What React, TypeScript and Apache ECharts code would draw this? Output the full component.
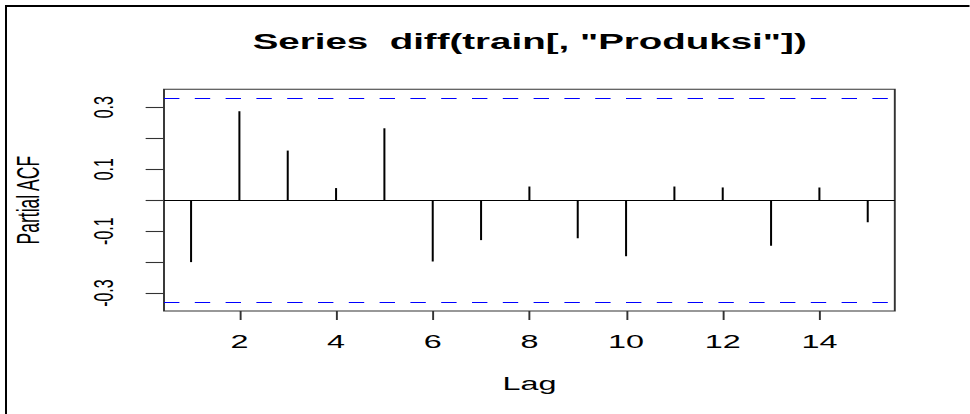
import React, { useEffect, useRef } from "react";
import * as echarts from "echarts";

// Partial autocorrelation of diff(train[, "Produksi"]) by lag
const lags = [1, 2, 3, 4, 5, 6, 7, 8, 9, 10, 11, 12, 13, 14, 15];
const pacf = [-0.2, 0.287, 0.16, 0.039, 0.232, -0.198, -0.129, 0.044, -0.123, -0.181, 0.044, 0.041, -0.147, 0.041, -0.071];
// 95% bound: 1.96 / sqrt(n), n = 35
const ciBound = 0.3313;

const lagTicks = [2, 4, 6, 8, 10, 12, 14];
const pacfTicks = [-0.3, -0.2, -0.1, 0, 0.1, 0.2, 0.3];
const pacfLabels = [-0.3, -0.1, 0.1, 0.3];

const titleText = 'Series  diff(train[, "Produksi"])';

// The plot is drawn in a narrower box and widened horizontally
const S = 1.75;
const W = 970 / S;
const H = 414;
const FONT = '"Liberation Sans", Arial, Helvetica, sans-serif';

// R-style axis extension: 4% of the data range on each side
const xMin = 1 - 0.04 * 14;
const xMax = 15 + 0.04 * 14;
const yLim = ciBound * 1.08;

export default function App() {
  const ref = useRef<HTMLDivElement>(null);

  useEffect(() => {
    if (!ref.current) return;
    const chart = echarts.init(ref.current, undefined, { renderer: "svg" });
    chart.setOption({
      animation: false,
      backgroundColor: "#ffffff",
      grid: {
        left: 164 / S,
        right: W - 895.3 / S,
        top: 89.3,
        bottom: H - 311,
        show: true,
        borderColor: "#333",
        borderWidth: 1.1,
        backgroundColor: "transparent",
        containLabel: false,
        outerBoundsMode: "none",
      },
      graphic: [
        {
          type: "line",
          shape: { x1: 5 / S, y1: 6, x2: W, y2: 6 },
          style: { stroke: "#000", lineWidth: 2 },
          silent: true,
        },
        {
          type: "line",
          shape: { x1: 6 / S, y1: 5, x2: 6 / S, y2: H },
          style: { stroke: "#000", lineWidth: 2 / S },
          silent: true,
        },
        {
          type: "text",
          x: 529.7 / S,
          y: 42,
          style: {
            text: titleText,
            fontSize: 22,
            fontWeight: "bold",
            fontFamily: FONT,
            fill: "#000",
            align: "center",
            verticalAlign: "middle",
          },
          silent: true,
        },
      ],
      xAxis: {
        type: "value",
        min: xMin,
        max: xMax,
        splitLine: { show: false },
        axisLine: { show: false, onZero: false },
        axisTick: {
          show: true,
          customValues: lagTicks,
          length: 9,
          lineStyle: { color: "#333", width: 1.1 },
        },
        axisLabel: {
          customValues: lagTicks,
          margin: 21,
          fontSize: 18.5,
          fontFamily: FONT,
          color: "#000",
        },
        name: "Lag",
        nameLocation: "middle",
        nameGap: 63,
        nameTextStyle: { fontSize: 18.5, fontFamily: FONT, color: "#000" },
      },
      yAxis: {
        type: "value",
        min: -yLim,
        max: yLim,
        splitLine: { show: false },
        axisLine: { show: false, onZero: false },
        axisTick: {
          show: true,
          customValues: pacfTicks,
          length: 10.5,
          lineStyle: { color: "#333", width: 1.1 },
        },
        axisLabel: {
          customValues: pacfLabels,
          rotate: 90,
          margin: 27,
          fontSize: 16,
          fontFamily: FONT,
          color: "#000",
          formatter: (v: number) => v.toFixed(1),
        },
        name: "Partial ACF",
        nameLocation: "middle",
        nameRotate: 90,
        nameGap: 69,
        nameTextStyle: { fontSize: 17.5, fontFamily: FONT, color: "#000" },
      },
      series: [
        {
          type: "bar",
          data: lags.map((l, i) => [l, pacf[i]]),
          barWidth: 1.15,
          itemStyle: { color: "#000" },
          silent: true,
          markLine: {
            silent: true,
            symbol: ["none", "none"],
            label: { show: false },
            emphasis: { disabled: true },
            data: [
              { yAxis: 0, lineStyle: { color: "#000", width: 1, type: "solid" } },
              { yAxis: ciBound, lineStyle: { color: "#0000ff", width: 1, type: [8.8, 8.8] } },
              { yAxis: -ciBound, lineStyle: { color: "#0000ff", width: 1, type: [8.8, 8.8] } },
            ],
          },
        },
      ],
    });
    return () => chart.dispose();
  }, []);

  return (
    <div
      ref={ref}
      style={{
        position: "absolute",
        left: 0,
        top: 0,
        width: W,
        height: H,
        transform: `scaleX(${S})`,
        transformOrigin: "0 0",
        background: "#fff",
      }}
    />
  );
}
